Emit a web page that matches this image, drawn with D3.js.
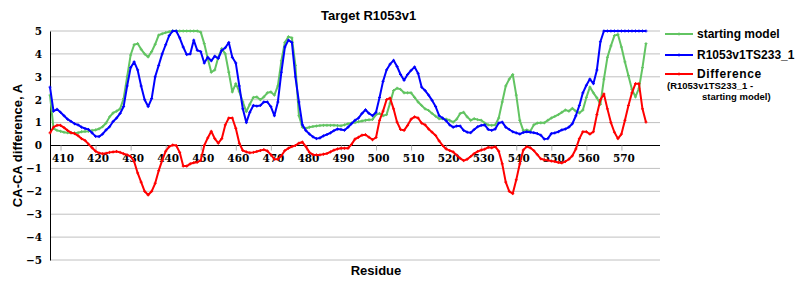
<!DOCTYPE html>
<html>
<head>
<meta charset="utf-8">
<script src="https://cdn.jsdelivr.net/npm/d3@7"></script>
<style>
	body { margin: 0; background: #fff; }
	svg text { font-family: "Liberation Sans", Arial, sans-serif; font-weight: bold; }
	.tick text { font-family: "DejaVu Serif", serif; font-size: 10.5px; font-weight: bold; fill: #000; }
</style>
</head>
<body>
<svg id="plot" width="800" height="300"></svg>
<script>

function whenDocumentLoaded(action) {
	if (document.readyState === "loading") {
		document.addEventListener("DOMContentLoaded", action);
	} else {
		action();
	}
}

const TITLE = 'Target R1053v1';
const FIRST_RESIDUE = 407;
const X_TICKS = [410, 420, 430, 440, 450, 460, 470, 480, 490, 500, 510, 520, 530, 540, 550, 560, 570];
const Y_TICKS = [-5, -4, -3, -2, -1, 0, 1, 2, 3, 4, 5];

// starting model, residues 407..577
const STARTING_MODEL = [
	2.2, 0.75, 0.66, 0.62, 0.58, 0.56, 0.55, 0.55, 0.56, 0.6,
	0.61, 0.62, 0.66, 0.68, 0.73, 0.82, 0.98, 1.25, 1.42, 1.5,
	1.6, 2.05, 3.0, 3.95, 4.4, 4.45, 4.2, 4.0, 3.87, 4.1,
	4.42, 4.82, 4.88, 4.93, 4.97, 5, 5, 5, 5, 5,
	5, 5, 5, 4.95, 4.45, 3.8, 3.2, 3.3, 3.85, 4.23,
	4.0, 3.2, 2.34, 2.7, 2.35, 1.9, 1.48, 1.8, 2.1, 2.12,
	2.0, 2.12, 2.3, 2.34, 2.2, 2.6, 3.7, 4.5, 4.75, 4.7,
	3.5, 1.3, 0.8, 0.75, 0.8, 0.83, 0.85, 0.87, 0.88, 0.88,
	0.88, 0.88, 0.87, 0.86, 0.9, 0.95, 0.98, 1.0, 1.04, 1.07,
	1.1, 1.12, 1.14, 1.35, 1.4, 1.3, 1.35, 1.85, 2.4, 2.5,
	2.45, 2.3, 2.3, 2.3, 2.1, 1.9, 1.75, 1.6, 1.53, 1.4,
	1.28, 1.17, 1.17, 1.15, 1.1, 1.02, 1.15, 1.4, 1.45, 1.25,
	1.1, 1.17, 1.13, 1.1, 0.98, 0.9, 0.88, 0.9, 1.2, 1.9,
	2.6, 2.9, 3.1, 2.2, 1.1, 0.65, 0.68, 0.62, 0.9, 0.98,
	0.99, 0.99, 1.1, 1.2, 1.27, 1.35, 1.45, 1.55, 1.5, 1.62,
	1.5, 1.42, 1.55, 2.1, 2.55, 2.3, 2.08, 1.8, 2.9, 3.85,
	4.35, 4.8, 4.85, 4.3, 3.65, 3.05, 2.45, 2.12, 2.5, 3.4,
	4.45
];

// R1053v1TS233_1
const MODEL = [
	2.55, 1.5, 1.58, 1.45, 1.3, 1.15, 1.05, 0.95, 0.9, 0.8,
	0.74, 0.7, 0.55, 0.4, 0.39, 0.5, 0.68, 0.82, 1.05, 1.2,
	1.4, 1.7, 2.6, 3.4, 3.65, 3.3, 2.6, 2.0, 1.7, 2.05,
	3.0, 3.5, 4.0, 4.4, 4.8, 5.0, 5.0, 4.7, 4.3, 3.97,
	4.0, 4.6, 4.16, 4.1, 3.6, 3.85, 3.7, 3.9, 3.8, 4.15,
	4.27, 4.5, 3.85, 3.6, 2.6, 1.6, 1.0, 1.45, 1.75, 1.72,
	1.75, 1.9, 1.9, 1.7, 1.3, 1.9, 3.2, 4.3, 4.6, 4.5,
	3.0, 1.9, 0.9, 0.65, 0.5, 0.38, 0.3, 0.33, 0.42, 0.48,
	0.55, 0.65, 0.72, 0.7, 0.67, 0.8, 0.95, 1.1, 1.2, 1.4,
	1.56, 1.4, 1.3, 1.45, 2.1, 2.8, 3.3, 3.55, 3.72, 3.45,
	3.1, 2.85, 3.1, 3.28, 3.43, 3.15, 2.55, 2.4, 2.2, 1.97,
	1.7, 1.3, 1.2, 1.08, 0.9, 0.8, 0.85, 0.85, 0.66, 0.58,
	0.56, 0.7, 0.82, 0.88, 0.9, 0.7, 0.66, 0.72, 0.98, 1.02,
	0.8, 0.7, 0.6, 0.55, 0.5, 0.57, 0.6, 0.58, 0.56, 0.52,
	0.45, 0.28, 0.3, 0.52, 0.55, 0.6, 0.68, 0.72, 0.8, 0.95,
	1.3, 1.75, 2.3, 2.63, 2.9, 2.7, 3.3, 4.53, 5, 5,
	5, 5, 5, 5, 5, 5, 5, 5, 5, 5,
	5
];

// Difference (R1053v1TS233_1 - starting model)
const DIFFERENCE = [
	0.55, 0.8, 0.88, 0.88, 0.78, 0.66, 0.56, 0.52, 0.43, 0.3,
	0.22, 0.06, -0.1, -0.25, -0.33, -0.36, -0.34, -0.3, -0.28, -0.26,
	-0.3, -0.36, -0.41, -0.48, -0.7, -1.2, -1.6, -2.0, -2.16, -2.0,
	-1.65, -1.1, -0.65, -0.25, -0.05, 0.02, 0.0, -0.3, -0.9, -0.9,
	-0.8, -0.75, -0.73, -0.65, 0.0, 0.33, 0.62, 0.3, 0.1, 0.3,
	0.9, 1.2, 1.2, 0.75, 0.1, -0.22, -0.28, -0.32, -0.3, -0.26,
	-0.22, -0.18, -0.24, -0.4, -0.6, -0.6, -0.45, -0.22, -0.12, -0.05,
	0.0, 0.1, 0.15, -0.05, -0.3, -0.4, -0.41, -0.41, -0.38, -0.35,
	-0.28, -0.2, -0.15, -0.12, -0.12, -0.12, 0.05, 0.28, 0.36, 0.45,
	0.47, 0.36, 0.25, 0.35, 1.1, 1.5, 2.0, 2.07, 1.6, 1.02,
	0.7, 0.66, 0.88, 1.15, 1.25, 1.2, 0.98, 0.9, 0.72, 0.58,
	0.44, 0.2, 0.0, -0.15, -0.22, -0.28, -0.42, -0.56, -0.66, -0.6,
	-0.48, -0.35, -0.26, -0.2, -0.16, -0.08, -0.1, -0.05, -0.25, -0.8,
	-1.6, -2.0, -2.1, -1.5, -0.8, -0.2, -0.05, -0.1, -0.22, -0.4,
	-0.58, -0.62, -0.65, -0.68, -0.7, -0.74, -0.76, -0.7, -0.6, -0.45,
	-0.15, 0.3, 0.6, 0.6, 0.5, 0.6, 1.35, 2.0, 2.25, 1.6,
	1.0, 0.58, 0.3, 0.5, 1.1, 1.75, 2.3, 2.7, 2.7, 1.6,
	1.02
];

const SERIES = [
	{ name: 'starting model', values: STARTING_MODEL, color: '#62c462' },
	{ name: 'R1053v1TS233_1', values: MODEL, color: '#0000ff' },
	{ name: 'Difference', values: DIFFERENCE, color: '#ff0000' }
];

class DiffChart {

	constructor(plotId, series) {
		this.svg = d3.select(`#${plotId}`);
		this.series = series;
		this.scaleX = d3.scaleLinear()
			.domain([DiffChart.MIN_X, DiffChart.MAX_X])
			.range([DiffChart.LEFT, DiffChart.RIGHT]);
		this.scaleY = d3.scaleLinear()
			.domain([-5, 5])
			.range([DiffChart.BOTTOM, DiffChart.TOP]);
	}

	redraw() {
		const x = this.scaleX, y = this.scaleY;

		this.svg.append('rect')
			.attr('width', 800).attr('height', 300).style('fill', '#fff');

		// horizontal grid, zero line in black
		this.svg.append('g')
			.selectAll('line')
			.data(Y_TICKS)
			.enter()
			.append('line')
				.attr('x1', DiffChart.LEFT).attr('x2', DiffChart.RIGHT)
				.attr('y1', d => y(d)).attr('y2', d => y(d))
				.style('stroke', d => d === 0 ? '#000' : '#c0c0c0')
				.style('stroke-width', 1);

		const yAxis = this.svg.append('g')
			.attr('transform', `translate(${DiffChart.LEFT},0)`)
			.call(d3.axisLeft(y).tickValues(Y_TICKS).tickSize(0).tickPadding(8));
		yAxis.select('.domain').style('stroke', '#000');

		const xAxis = this.svg.append('g')
			.attr('transform', `translate(0,${y(0)})`)
			.call(d3.axisBottom(x).tickValues(X_TICKS).tickSize(5).tickPadding(4));
		xAxis.select('.domain').remove();
		xAxis.selectAll('.tick line').style('stroke', '#b0b0b0');
		xAxis.selectAll('.tick text').attr('dx', 2);

		const line = d3.line()
			.x((d, i) => x(FIRST_RESIDUE + i))
			.y(d => y(d));

		this.series.forEach(s => {
			this.svg.append('path')
				.datum(s.values)
				.attr('d', line)
				.style('fill', 'none')
				.style('stroke', s.color)
				.style('stroke-width', 2)
				.style('stroke-linejoin', 'round');

			this.svg.append('path')
				.attr('d', s.values.map((v, i) => {
					const px = x(FIRST_RESIDUE + i), py = y(v);
					return `M${px - 1.5},${py}h3M${px},${py - 1.5}v3`;
				}).join(''))
				.style('stroke', s.color)
				.style('stroke-width', 1);
		});

		// titles
		this.svg.append('text')
			.attr('x', 321).attr('y', 20)
			.style('font-size', '13px')
			.text(TITLE);

		this.svg.append('text')
			.attr('transform', `translate(22,${y(0)}) rotate(-90)`)
			.attr('text-anchor', 'middle')
			.style('font-size', '13px')
			.text('CA-CA difference, A');

		this.svg.append('text')
			.attr('x', 376).attr('y', 275)
			.attr('text-anchor', 'middle')
			.style('font-size', '13px')
			.text('Residue');

		// legend
		const legend = this.svg.append('g');
		const legendY = [34, 55, 74];
		this.series.forEach((s, i) => {
			legend.append('line')
				.attr('x1', 665).attr('x2', 693)
				.attr('y1', legendY[i]).attr('y2', legendY[i])
				.style('stroke', s.color).style('stroke-width', 2);
			legend.append('path')
				.attr('d', `M679,${legendY[i] - 1.5}v3`)
				.style('stroke', s.color).style('stroke-width', 1);
			legend.append('text')
				.attr('x', 697).attr('y', legendY[i] + 4)
				.style('font-size', '12px')
				.style('letter-spacing', i === 2 ? '0.6px' : null)
				.text(s.name);
		});
		legend.append('text')
			.attr('x', 667).attr('y', 89)
			.style('font-size', '9.5px')
			.text('(R1053v1TS233_1 -');
		legend.append('text')
			.attr('x', 702).attr('y', 100)
			.style('font-size', '9.5px')
			.text('starting model)');
	}
}

DiffChart.MIN_X = 407;
DiffChart.MAX_X = 581;
DiffChart.LEFT = 50;
DiffChart.RIGHT = 660;
DiffChart.TOP = 31;
DiffChart.BOTTOM = 260;

whenDocumentLoaded(() => {
	const chart = new DiffChart('plot', SERIES);
	chart.redraw();
});
</script>
</body>
</html>
